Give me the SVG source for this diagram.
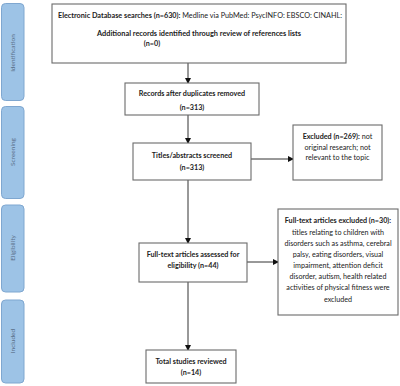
<svg xmlns="http://www.w3.org/2000/svg" width="400" height="386" viewBox="0 0 400 386">
<style>
.side{fill:#9dc3e6;stroke:#7fa7d0;stroke-width:1}
.st{font-family:Lato,"Open Sans","Liberation Sans",sans-serif;font-size:6.5px;fill:#5a6f88;text-anchor:middle}
.box{fill:#fff;stroke:#6b6b6b;stroke-width:1.1}
.t{font-family:Lato,"Open Sans","Liberation Sans",sans-serif;font-size:7.2px;fill:#222;text-anchor:middle}
.b{font-weight:bold}
.c{stroke:#333;stroke-width:1;fill:none}
</style>
<defs>
<marker id="ah" markerWidth="6" markerHeight="6" refX="5" refY="3" orient="auto" markerUnits="userSpaceOnUse">
<path d="M0,0 L6,3 L0,6 Z" fill="#111"/>
</marker>
</defs>
<g id="side-identification"><rect class="side" x="1.5" y="3.5" width="22.5" height="97" rx="4"/><text class="st" transform="translate(15,53) rotate(-90)">Identification</text></g>
<g id="side-screening"><rect class="side" x="1.5" y="106.5" width="22.5" height="92" rx="4"/><text class="st" transform="translate(15,152) rotate(-90)">Screening</text></g>
<g id="side-eligibility"><rect class="side" x="1.5" y="205" width="22.5" height="87" rx="4"/><text class="st" transform="translate(15,248) rotate(-90)">Eligibility</text></g>
<g id="side-included"><rect class="side" x="1.5" y="300" width="22.5" height="83" rx="4"/><text class="st" transform="translate(15,341) rotate(-90)">Included</text></g>

<g id="connectors">
<line class="c" x1="188" y1="63" x2="188" y2="83" marker-end="url(#ah)"/>
<line class="c" x1="188" y1="115" x2="188" y2="143" marker-end="url(#ah)"/>
<line class="c" x1="251" y1="159" x2="293" y2="159" marker-end="url(#ah)"/>
<line class="c" x1="188" y1="180" x2="188" y2="243" marker-end="url(#ah)"/>
<line class="c" x1="247" y1="262" x2="278" y2="262" marker-end="url(#ah)"/>
<line class="c" x1="188" y1="282" x2="188" y2="350" marker-end="url(#ah)"/>
</g>

<g id="n-search"><rect class="box" x="52" y="4" width="294" height="59"/>
<text class="t" x="200" y="17.5" textLength="284" lengthAdjust="spacingAndGlyphs"><tspan class="b">Electronic Database searches (n=630):</tspan> Medline via PubMed: PsycINFO:  EBSCO:  CINAHL:</text>
<text class="t b" x="199" y="36" textLength="204" lengthAdjust="spacingAndGlyphs">Additional records identified through review of references lists</text>
<text class="t b" x="152" y="46">(n=0)</text></g>

<g id="n-records"><rect class="box" x="125" y="83" width="134" height="32"/>
<text class="t b" x="192" y="96">Records after duplicates removed</text>
<text class="t b" x="192" y="109.5">(n=313)</text></g>

<g id="n-titles"><rect class="box" x="133" y="143" width="118" height="37"/>
<text class="t b" x="192" y="157.5">Titles/abstracts screened</text>
<text class="t b" x="192" y="169.5">(n=313)</text></g>

<g id="n-excluded1"><rect class="box" x="293" y="125" width="89" height="55"/>
<text class="t" x="337.5" y="139"><tspan class="b">Excluded (n=269):</tspan> not</text>
<text class="t" x="337.5" y="150">original research; not</text>
<text class="t" x="337.5" y="160">relevant to the topic</text></g>

<g id="n-fulltext"><rect class="box" x="139" y="243" width="108" height="39"/>
<text class="t b" x="193" y="256.5">Full-text articles assessed for</text>
<text class="t b" x="193" y="267.5">eligibility (n=44)</text></g>

<g id="n-excluded2"><rect class="box" x="278" y="209" width="120" height="106"/>
<text class="t b" x="338" y="223">Full-text articles excluded (n=30):</text>
<text class="t" x="338" y="234.5">titles relating to children with</text>
<text class="t" x="338" y="245.5">disorders such as asthma, cerebral</text>
<text class="t" x="338" y="256.5">palsy, eating disorders, visual</text>
<text class="t" x="338" y="268">impairment, attention deficit</text>
<text class="t" x="338" y="279">disorder, autism, health related</text>
<text class="t" x="338" y="290">activities of physical fitness were</text>
<text class="t" x="338" y="301.5">excluded</text></g>

<g id="n-total"><rect class="box" x="146" y="350" width="90" height="33"/>
<text class="t b" x="191" y="364">Total studies reviewed</text>
<text class="t b" x="191" y="375">(n=14)</text></g>
</svg>
